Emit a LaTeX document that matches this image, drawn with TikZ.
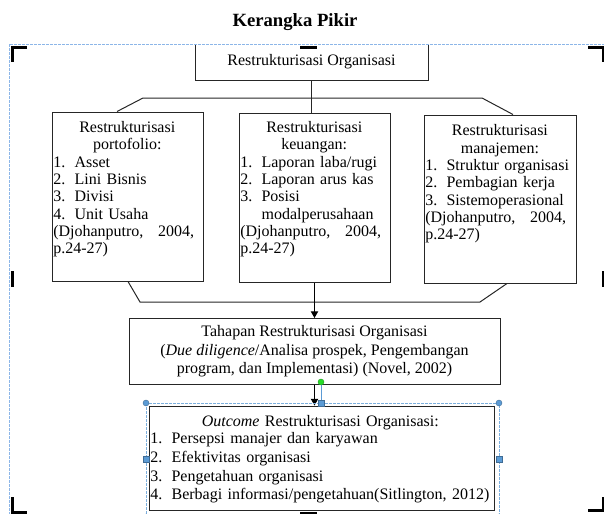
\documentclass[tikz,border=0pt]{standalone}
\usepackage{fontspec}
\setmainfont{Liberation Serif}
\usepackage{xcolor}
\usetikzlibrary{arrows.meta, positioning, calc}
\definecolor{selectBlue}{RGB}{91, 155, 213}
\definecolor{frameBlue}{RGB}{140, 182, 232}
\definecolor{handleGreen}{RGB}{40, 220, 40}
\setlength{\parindent}{0pt}
\newcommand{\nitem}[2]{\makebox[16pt][l]{#1}#2\par}

\begin{document}
\begin{tikzpicture}[x=0.75pt, y=-0.75pt, font=\fontsize{12pt}{13pt}\selectfont]
        \tikzstyle{panel} = [rectangle, draw=black!85, line width=0.75pt, fill=white, inner sep=0pt]
        \tikzstyle{paneltext} = [anchor=north west, inner sep=0pt, text width=111pt]
        \tikzstyle{link} = [black!85, line width=0.75pt]
        \tikzstyle{arrow} = [-{Triangle[width=5.5pt, length=5pt]}, black, line width=0.75pt]
        \tikzstyle{cropmark} = [black, line width=2.25pt]
        \tikzstyle{selframe} = [selectBlue!80, dash pattern=on 2pt off 1pt, line width=0.6pt]
        \tikzstyle{roundhandle} = [circle, fill=selectBlue, draw=selectBlue!70!black, line width=0.3pt, minimum size=4.5pt, inner sep=0pt]
        \tikzstyle{squarehandle} = [rectangle, fill=selectBlue, draw=selectBlue!70!black, line width=0.3pt, minimum size=4.5pt, inner sep=0pt]

        \useasboundingbox (0,0) rectangle (604,514);

        % Title
        \node[font=\fontsize{14pt}{16pt}\selectfont\bfseries] (title) at (295,22) {Kerangka Pikir};

        % Boxes
        \node[panel, minimum width=174.75pt, minimum height=27.75pt] (org) at (311.5,61.5) {Restrukturisasi Organisasi};
        \node[panel, minimum width=113.25pt, minimum height=126.75pt] (porto) at (127.5,196.5) {};
        \node[panel, minimum width=113.25pt, minimum height=126.75pt] (uang) at (314.5,197.5) {};
        \node[panel, minimum width=114pt, minimum height=126pt] (manaj) at (500,199) {};
        \node[panel, align=center, minimum width=278.25pt, minimum height=49.5pt, font=\fontsize{12pt}{14pt}\selectfont] (tahapan) at (314.5,351.5)
            {Tahapan Restrukturisasi Organisasi\\(\textit{Due diligence}/Analisa prospek, Pengembangan\\program, dan Implementasi) (Novel, 2002)};
        \node[panel, minimum width=258.75pt, minimum height=78pt] (outcome) at (321.5,458) {};

        % Canvas frame
        \draw[white, line width=1.5pt] (9.5,44) -- (607,44);
        \draw[selframe, frameBlue] (9.5,44) rectangle (607,530);

        % Box texts
        \node[paneltext] (portoText) at (53,121) {%
            {\centering Restrukturisasi\\portofolio:\par}
            \nitem{1.}{Asset}
            \nitem{2.}{Lini Bisnis}
            \nitem{3.}{Divisi}
            \nitem{4.}{Unit Usaha}
            (Djohanputro,\hspace{11pt}2004,\par
            p.24-27)};
        \node[paneltext] (uangText) at (240,121) {%
            {\centering Restrukturisasi\\keuangan:\par}
            \nitem{1.}{Laporan laba/rugi}
            \nitem{2.}{Laporan arus kas}
            \nitem{3.}{Posisi}
            \hspace*{16pt}modalperusahaan\par
            (Djohanputro,\hspace{11pt}2004,\par
            p.24-27)};
        \node[paneltext, text width=112pt] (manajText) at (425,124.5) {%
            {\centering Restrukturisasi\\manajemen:\par}
            \nitem{1.}{Struktur organisasi}
            \nitem{2.}{Pembagian kerja}
            \nitem{3.}{Sistemoperasional}
            (Djohanputro,\hspace{11pt}2004,\par
            p.24-27)};
        \node[paneltext, text width=255pt, font=\fontsize{12pt}{14pt}\selectfont] (outcomeText) at (150,415) {%
            {\centering \textit{Outcome} Restrukturisasi Organisasi:\par}
            \vspace{-1pt}
            \nitem{1.}{Persepsi manajer dan karyawan}
            \nitem{2.}{Efektivitas organisasi}
            \nitem{3.}{Pengetahuan organisasi}
            \nitem{4.}{Berbagi informasi/pengetahuan(Sitlington, 2012)}};

        % Connectors
        \draw[link] (org.south) -- (org.south |- uang.north);
        \draw[link] ($(porto.north)+(-10.5,0)$) -- (143,98) -- (482,98) -- ($(manaj.north)+(13,0)$);
        \draw[link] ($(porto.south)+(0.5,0)$) -- (140,302) -- (480,302) -- ($(manaj.south)+(7,0)$);
        \draw[arrow] (uang.south) -- (tahapan.north);
        \draw[arrow] (tahapan.south) -- (tahapan.south |- outcome.north);

        % Crop marks
        \draw[cropmark] (27,47) -- (12,47) -- (12,62);
        \draw[cropmark] (588,47) -- (603,47) -- (603,62);
        \draw[cropmark] (300,47) -- (317,47);
        \draw[cropmark] (12.5,271) -- (12.5,287);
        \draw[cropmark] (603,271) -- (603,287);
        \draw[cropmark] (12,497) -- (12,512) -- (27,512);
        \draw[cropmark] (588,510) -- (603,510) -- (603,497);
        \draw[cropmark] (300,513) -- (317,513);

        % Selection handles
        \draw[selframe] (146,403) rectangle (499,517);
        \draw[selectBlue, line width=0.75pt] (321,382) -- (321,403);
        \node[roundhandle, fill=handleGreen, draw=handleGreen!70!black] (hRot) at (321,382) {};
        \node[roundhandle] (hNW) at (146,403) {};
        \node[roundhandle] (hNE) at (499,403) {};
        \node[roundhandle] (hSW) at (146,517) {};
        \node[roundhandle] (hSE) at (499,517) {};
        \node[squarehandle] (hN) at (321,403) {};
        \node[squarehandle] (hW) at (146,459) {};
        \node[squarehandle] (hE) at (499,459) {};
        \node[squarehandle] (hS) at (321,517) {};
    \end{tikzpicture}
\end{document}
